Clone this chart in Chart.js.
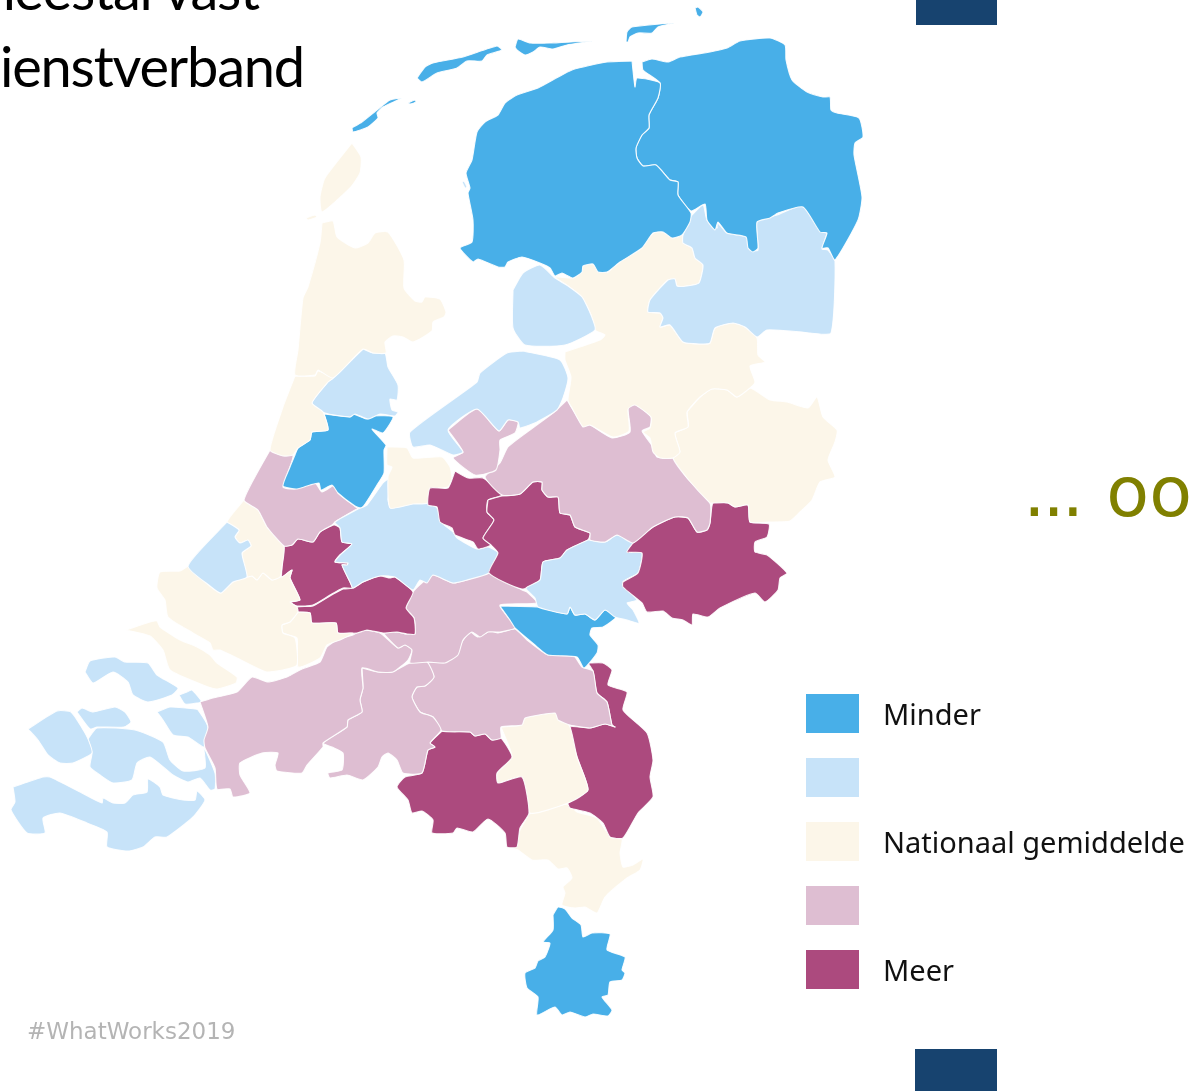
<!DOCTYPE html>
<html lang="nl">
<head>
<meta charset="utf-8">
<title>Leerkrachten met een meestal vast dienstverband</title>
<script src="https://cdn.jsdelivr.net/npm/chart.js@4"></script>
<style>
  html, body { margin: 0; padding: 0; background: #fff; }
  #page { position: relative; width: 1191px; height: 1091px; overflow: hidden; }
  #map { position: absolute; left: 0; top: 0; }
  .title { position: absolute; font: 56px/1 "Lato", sans-serif; letter-spacing: -1.2px; color: #000; white-space: nowrap; }
  #line1 { right: 932px; top: -39px; }
  #line2 { right: 887px; top: 38px; }
  #tag { position: absolute; left: 27px; top: 1018px; font: 23px/1.2 "DejaVu Sans", sans-serif; color: #b4b4b4; }
  #dots { position: absolute; right: -1px; top: 450px; font: 70px/1.2 "DejaVu Sans", sans-serif; color: #808000; white-space: pre; }
  #dots span { letter-spacing: -3px; }
  .bar { position: absolute; background: #17436f; }
  #legend { position: absolute; left: 806px; top: 694px; }
  .entry { position: relative; height: 39px; margin-bottom: 25px; }
  .swatch { position: absolute; left: 0; top: 0; width: 53px; height: 39px; }
  .label { position: absolute; left: 77px; top: 0; font: 29px/39px "Noto Sans", sans-serif; color: #111; white-space: nowrap; }
</style>
</head>
<body>
<div id="page">
  <canvas id="map" width="1191" height="1091"></canvas>
  <div class="title" id="line1">meestal vast</div>
  <div class="title" id="line2">dienstverband</div>
  <div id="dots"><span>..</span>. oo</div>
  <div id="tag">#WhatWorks2019</div>
  <div class="bar" style="left:916px;top:0;width:81px;height:25px"></div>
  <div class="bar" style="left:915px;top:1049px;width:82px;height:42px"></div>
  <div id="legend"></div>
</div>
<script>
// Legend classes, from below to above the national average.
const classLabels = ['Minder', '', 'Nationaal gemiddelde', '', 'Meer'];
const classColors = ['#48afe8', '#c7e3f9', '#fcf6e9', '#debed2', '#ac4a7e'];

// Region outlines as [x, y] in map grid units, with the class of each region.
const rottumeroog = [[695,8],[698,7],[703,12],[700,17],[697,15]];
const schiermonnikoog = [[626,42],[627,32],[632,27],[674,23],[658,27],[652,33],[638,33],[630,37],[628,42]];
const ameland = [[515,47],[518,39],[530,43],[550,43],[592,41],[567,45],[553,49],[540,47],[533,52],[525,55],[517,50]];
const terschelling = [[417,78],[425,67],[433,63],[463,57],[497,46],[502,50],[487,55],[482,61],[467,61],[457,68],[437,73],[422,82]];
const vlieland = [[352,128],[362,122],[377,110],[390,100],[402,98],[383,107],[377,113],[378,118],[368,127],[353,132]];
const griend = [[408,103],[415,100],[416,102],[410,104]];
const friesland = [[632,61],[635,87],[637,78],[660,83],[658,98],[649,115],[649,128],[642,135],[636,148],[637,158],[643,166],[656,165],[670,180],[678,182],[678,195],[691,213],[690,222],[682,235],[672,238],[663,232],[653,233],[642,248],[620,262],[607,272],[598,272],[593,264],[583,266],[582,272],[573,278],[562,273],[555,276],[550,268],[540,263],[522,257],[508,262],[505,267],[498,267],[478,259],[473,262],[460,248],[472,242],[473,220],[468,193],[470,188],[466,173],[472,160],[477,132],[485,122],[498,115],[505,103],[517,95],[538,88],[572,70],[607,62]];
const frieslandIslet = [[462,182],[464,181],[467,187],[465,188]];
const groningen = [[642,62],[652,59],[668,62],[680,57],[710,52],[727,48],[740,41],[770,38],[785,45],[786,60],[792,80],[807,92],[823,97],[830,97],[831,110],[837,113],[859,118],[863,137],[855,143],[854,155],[862,197],[858,220],[835,260],[828,248],[822,248],[827,233],[820,232],[803,207],[778,213],[770,218],[757,222],[758,248],[753,252],[748,248],[746,237],[727,233],[718,222],[715,230],[707,220],[705,204],[691,211],[678,195],[678,182],[670,180],[656,165],[643,166],[637,158],[636,148],[642,135],[649,128],[649,115],[658,98],[660,83],[643,70]];
const drenthe = [[691,216],[703,205],[707,220],[717,228],[717,222],[727,233],[747,237],[750,250],[758,250],[757,221],[777,215],[802,206],[822,232],[827,233],[822,249],[828,250],[835,261],[831,333],[810,333],[802,332],[767,330],[757,337],[745,327],[733,323],[715,328],[710,343],[700,344],[683,342],[670,325],[660,327],[663,318],[660,313],[648,312],[650,300],[668,280],[675,279],[677,286],[687,286],[699,283],[703,265],[695,258],[692,248],[683,243],[683,235]];
const noordoostpolder = [[513,290],[523,273],[540,265],[555,278],[568,286],[582,297],[591,315],[595,330],[565,345],[525,345],[513,328]];
const flevoland = [[523,351],[560,360],[568,378],[563,398],[557,410],[537,422],[520,428],[518,422],[508,420],[499,431],[477,409],[448,430],[463,452],[453,455],[430,445],[413,447],[410,432],[477,382],[480,373],[507,353]];
const almere = [[448,430],[477,409],[499,431],[508,420],[518,422],[515,433],[500,440],[500,450],[496,470],[475,475],[453,458],[463,452]];
const overijsselWest = [[565,352],[600,340],[605,335],[595,330],[591,315],[582,297],[568,286],[555,277],[573,278],[582,272],[583,265],[595,264],[600,272],[608,272],[623,258],[655,232],[663,232],[673,238],[683,235],[683,243],[692,248],[695,258],[703,265],[699,283],[687,286],[677,286],[675,279],[668,280],[650,300],[648,312],[660,313],[663,318],[660,327],[670,325],[683,342],[700,344],[710,343],[715,328],[733,323],[745,327],[757,338],[758,355],[765,362],[750,366],[755,382],[750,388],[737,397],[727,390],[712,389],[700,397],[687,412],[688,427],[675,433],[680,452],[673,458],[660,458],[653,452],[650,438],[643,432],[650,428],[651,417],[635,405],[628,409],[629,431],[613,437],[590,425],[583,427],[572,408],[568,400],[571,377],[565,360]];
const twente = [[687,412],[700,397],[712,389],[727,390],[737,397],[750,388],[770,400],[787,402],[808,408],[817,397],[823,417],[837,430],[835,442],[828,460],[835,477],[820,482],[812,500],[800,512],[790,521],[769,522],[750,522],[748,505],[735,507],[728,503],[713,503],[710,503],[687,478],[673,458],[680,452],[675,433],[688,427]];
const veluwe = [[567,400],[583,425],[590,425],[612,438],[630,432],[628,408],[635,404],[651,417],[650,427],[642,431],[653,447],[657,457],[673,458],[687,478],[710,503],[710,523],[707,530],[697,532],[688,518],[675,517],[653,527],[633,543],[617,535],[605,542],[590,540],[590,533],[575,527],[570,515],[560,513],[558,497],[548,497],[542,490],[542,482],[533,482],[520,494],[502,495],[485,477],[500,463],[508,447],[530,430],[553,413]];
const achterhoek = [[633,543],[653,527],[675,517],[688,518],[697,532],[707,530],[710,523],[713,503],[728,503],[735,507],[748,505],[750,522],[769,524],[767,537],[755,542],[755,552],[767,555],[787,573],[780,578],[778,590],[765,602],[755,593],[720,608],[708,617],[693,614],[692,625],[683,620],[672,618],[663,611],[647,612],[642,603],[623,587],[623,582],[638,573],[642,553],[627,552]];
const arnhem = [[590,540],[605,542],[617,535],[633,543],[627,552],[642,553],[638,573],[623,582],[637,600],[627,603],[633,610],[639,623],[627,620],[615,617],[605,610],[595,620],[585,614],[575,615],[570,607],[567,614],[538,607],[535,598],[526,588],[540,580],[543,562],[560,558],[567,550],[588,540]];
const nijmegen = [[500,606],[538,607],[567,614],[570,607],[575,615],[585,614],[595,620],[605,610],[616,617],[603,627],[592,628],[590,635],[598,645],[597,653],[584,668],[577,657],[548,655],[535,645],[515,628],[510,620]];
const gelderseVallei = [[488,500],[502,496],[520,494],[533,482],[542,482],[542,490],[548,497],[558,497],[560,513],[570,515],[575,527],[590,533],[588,540],[567,550],[560,558],[543,562],[540,580],[522,589],[489,573],[498,553],[491,545],[483,538],[494,520],[487,512]];
const utrechtNoord = [[455,471],[468,478],[483,478],[502,495],[488,500],[487,512],[494,520],[483,538],[491,545],[478,549],[473,542],[455,535],[452,528],[440,522],[437,507],[428,505],[430,488],[448,488]];
const gooi = [[387,447],[407,448],[413,458],[442,457],[450,467],[452,478],[448,487],[430,490],[428,503],[413,504],[390,508],[388,477],[392,467],[387,465]];
const utrechtWest = [[358,509],[367,505],[383,483],[390,478],[388,500],[391,508],[410,503],[428,503],[437,508],[442,523],[453,532],[457,538],[477,549],[488,547],[498,553],[489,573],[467,580],[453,583],[433,575],[427,583],[420,580],[413,590],[395,577],[380,576],[363,582],[353,588],[350,582],[342,565],[347,565],[348,563],[335,562],[340,555],[352,544],[342,542],[340,528],[335,522]];
const wieringen = [[352,143],[361,157],[360,173],[350,188],[322,212],[320,197],[325,178]];
const wieringenTip = [[306,218],[315,215],[317,217],[308,220]];
const noordHolland = [[322,223],[333,221],[337,237],[355,248],[368,243],[375,233],[388,232],[404,260],[404,288],[415,301],[422,302],[425,297],[440,299],[446,312],[444,317],[433,322],[432,331],[413,342],[403,337],[393,336],[385,342],[386,353],[373,353],[363,349],[333,378],[318,370],[315,375],[295,375],[298,350],[303,298],[308,287],[320,243]];
const kennemerland = [[295,376],[315,376],[318,371],[333,378],[328,382],[312,403],[323,412],[328,430],[312,432],[310,440],[298,448],[293,455],[283,456],[270,450],[283,407]];
const zaanstreek = [[363,349],[373,353],[385,353],[388,367],[398,385],[397,400],[390,399],[392,410],[398,412],[395,416],[380,414],[368,419],[355,414],[350,417],[325,413],[312,403],[328,382],[333,378]];
const amsterdam = [[324,414],[350,417],[353,414],[367,419],[373,416],[393,417],[383,433],[372,429],[386,445],[384,450],[384,473],[377,485],[362,508],[355,506],[338,493],[332,485],[321,490],[319,483],[310,485],[297,489],[283,486],[290,467],[295,455],[298,448],[310,440],[312,432],[328,430]];
const leiden = [[270,450],[293,455],[283,487],[293,489],[315,483],[322,492],[335,485],[338,493],[358,509],[355,510],[335,522],[332,525],[320,532],[313,542],[298,539],[292,545],[284,546],[267,527],[258,510],[244,500]];
const denHaag = [[227,522],[239,530],[235,537],[240,543],[248,540],[251,546],[242,553],[247,577],[233,582],[221,593],[210,586],[188,566]];
const delft = [[244,500],[258,510],[267,527],[284,546],[282,567],[280,577],[272,580],[263,573],[257,580],[252,576],[247,577],[242,553],[251,546],[248,540],[240,543],[235,537],[239,530],[227,522]];
const voorne = [[188,566],[210,586],[221,593],[233,582],[247,577],[252,576],[257,580],[263,573],[272,580],[280,577],[282,577],[292,570],[290,578],[300,600],[290,602],[297,607],[298,612],[290,622],[282,625],[283,633],[295,638],[297,665],[283,670],[267,672],[257,668],[237,658],[220,650],[213,650],[210,643],[193,633],[168,617],[165,600],[157,588],[160,572],[180,571]];
const flakkee = [[126,630],[150,622],[157,621],[160,627],[180,640],[197,647],[210,655],[217,663],[237,677],[236,683],[217,689],[203,685],[170,670],[163,650],[150,636]];
const drechtsteden = [[298,612],[310,613],[312,623],[336,623],[338,633],[353,633],[340,640],[327,645],[320,658],[298,667],[297,638],[283,633],[282,625],[290,622]];
const rijnmond = [[284,546],[292,545],[298,539],[313,542],[320,532],[334,525],[340,528],[342,542],[352,544],[340,555],[335,562],[348,563],[347,565],[342,565],[350,582],[352,588],[343,588],[330,595],[313,605],[297,606],[290,602],[300,600],[290,578],[292,570],[282,577],[282,567]];
const zuidHollandZuid = [[343,589],[353,588],[363,582],[380,576],[390,578],[395,577],[413,592],[406,608],[414,618],[415,634],[407,634],[397,632],[383,633],[367,630],[357,633],[338,633],[336,623],[312,623],[310,613],[298,612],[297,607],[313,606],[330,596]];
const rivierenland = [[383,633],[397,632],[407,634],[415,634],[414,618],[406,608],[413,592],[423,582],[433,575],[453,583],[467,580],[489,573],[522,590],[527,592],[537,603],[500,605],[510,620],[515,628],[500,632],[488,632],[480,637],[472,632],[463,640],[458,655],[445,663],[428,662],[410,663],[412,650],[405,645],[398,648]];
const westBrabant = [[200,702],[213,698],[237,692],[252,677],[268,682],[287,677],[302,669],[320,662],[327,647],[337,640],[353,635],[363,630],[380,633],[398,648],[405,645],[412,650],[408,660],[393,672],[378,672],[362,668],[363,688],[360,700],[362,712],[348,720],[347,727],[323,743],[323,747],[307,765],[302,773],[277,771],[275,765],[278,753],[262,753],[240,763],[240,775],[250,793],[233,797],[230,789],[217,789],[215,768],[205,748],[204,740],[208,727]];
const middenBrabant = [[362,668],[378,672],[392,672],[410,663],[427,662],[434,677],[425,686],[417,687],[412,697],[420,712],[433,717],[441,730],[430,743],[435,747],[428,750],[422,773],[403,773],[397,760],[388,753],[382,757],[378,767],[363,780],[347,775],[330,778],[328,773],[342,770],[343,753],[332,747],[323,743],[347,727],[348,720],[362,712],[360,700],[363,688]];
const oostBrabant = [[427,662],[445,662],[457,655],[462,642],[470,632],[478,637],[490,631],[498,633],[515,629],[527,640],[548,655],[573,655],[582,667],[593,671],[597,693],[607,702],[612,725],[615,727],[605,724],[590,728],[570,725],[558,720],[555,713],[525,718],[522,725],[501,727],[501,738],[492,740],[485,734],[475,736],[470,732],[442,731],[433,717],[420,712],[412,697],[417,687],[425,686],[434,677]];
const zuidoostBrabant = [[442,731],[470,732],[475,736],[485,734],[492,740],[501,738],[512,757],[497,773],[498,783],[522,777],[529,813],[520,828],[517,847],[507,847],[505,833],[488,819],[473,832],[457,828],[453,833],[432,833],[433,820],[422,811],[412,813],[408,800],[397,787],[405,777],[422,773],[428,750],[435,747],[430,743]];
const peel = [[501,727],[522,725],[525,718],[556,713],[570,727],[577,757],[588,790],[568,803],[530,813],[522,777],[498,783],[497,773],[512,757]];
const noordLimburg = [[588,663],[603,663],[612,670],[608,685],[627,692],[623,710],[647,733],[653,760],[650,777],[653,797],[638,813],[623,838],[610,837],[603,823],[590,813],[570,808],[568,803],[588,790],[577,757],[570,727],[590,728],[605,724],[615,727],[612,725],[607,702],[597,693],[593,671]];
const middenLimburg = [[529,814],[568,804],[577,812],[597,818],[607,832],[622,839],[620,853],[623,867],[633,865],[643,859],[640,870],[627,878],[605,897],[597,913],[585,907],[575,908],[562,905],[565,893],[563,887],[572,878],[567,868],[558,869],[548,860],[532,860],[518,850],[510,847],[517,842],[520,830]];
const zuidLimburg = [[553,915],[558,907],[565,909],[572,918],[581,925],[583,937],[592,933],[610,934],[607,950],[625,957],[622,970],[625,973],[622,980],[610,982],[608,995],[602,997],[612,1010],[608,1016],[593,1014],[585,1017],[570,1012],[562,1015],[555,1007],[537,1015],[538,997],[527,988],[525,973],[535,968],[538,961],[545,957],[550,943],[543,942],[553,930]];
const schouwen = [[85,672],[90,661],[115,657],[125,662],[148,663],[157,675],[178,688],[172,695],[148,702],[133,695],[128,682],[113,672],[93,683]];
const sintPhilipsland = [[179,695],[187,692],[192,690],[202,702],[197,703],[185,704]];
const noordBeveland = [[77,712],[82,708],[93,712],[115,707],[125,712],[131,722],[124,727],[97,727],[90,729]];
const tholen = [[157,712],[170,707],[195,709],[198,710],[208,727],[204,747],[188,737],[173,735],[163,720]];
const walcheren = [[28,729],[57,711],[71,712],[82,728],[88,739],[92,753],[73,763],[60,763],[48,755],[38,740]];
const zuidBeveland = [[88,739],[97,728],[135,730],[163,742],[170,760],[183,771],[205,768],[204,748],[215,773],[215,789],[210,790],[200,778],[188,782],[173,775],[150,757],[137,763],[132,780],[113,783],[100,775],[90,767],[92,753]];
const zeeuwsVlaanderen = [[13,787],[43,777],[50,777],[80,792],[102,803],[103,798],[113,803],[125,803],[133,795],[147,792],[148,779],[160,787],[163,795],[183,800],[195,800],[197,791],[205,800],[193,817],[167,837],[155,837],[143,847],[128,851],[107,847],[107,832],[87,823],[60,813],[43,818],[45,833],[27,833],[11,810],[15,802]];

const regions = [
  [rottumeroog, 0], [schiermonnikoog, 0], [ameland, 0], [terschelling, 0], [vlieland, 0], [griend, 0],
  [friesland, 0], [frieslandIslet, 1], [groningen, 0], [drenthe, 1], [noordoostpolder, 1], [flevoland, 1],
  [almere, 3], [overijsselWest, 2], [twente, 2], [veluwe, 3], [achterhoek, 4], [arnhem, 1], [nijmegen, 0],
  [gelderseVallei, 4], [utrechtNoord, 4], [gooi, 2], [utrechtWest, 1], [wieringen, 2], [wieringenTip, 2],
  [noordHolland, 2], [kennemerland, 2], [zaanstreek, 1], [amsterdam, 0], [leiden, 3], [denHaag, 1], [delft, 2],
  [voorne, 2], [flakkee, 2], [drechtsteden, 2], [rijnmond, 4], [zuidHollandZuid, 4], [rivierenland, 3],
  [westBrabant, 3], [middenBrabant, 3], [oostBrabant, 3], [zuidoostBrabant, 4], [peel, 2], [noordLimburg, 4],
  [middenLimburg, 2], [zuidLimburg, 0], [schouwen, 1], [sintPhilipsland, 1], [noordBeveland, 1], [tholen, 1],
  [walcheren, 1], [zuidBeveland, 1], [zeeuwsVlaanderen, 1]
];

// One closed, filled line per region, slightly rounded at the corners.
const datasets = regions.map(([outline, cls]) => ({
  data: outline.concat([outline[0]]).map(([x, y]) => ({ x, y })),
  showLine: true,
  fill: 'shape',
  backgroundColor: classColors[cls],
  borderColor: 'rgba(255,255,255,0.9)',
  borderWidth: 1.1,
  borderJoinStyle: 'round',
  pointRadius: 0,
  tension: 0.18
}));

new Chart(document.getElementById('map'), {
  type: 'scatter',
  data: { datasets },
  options: {
    responsive: false,
    animation: false,
    layout: { padding: 0 },
    scales: {
      x: { type: 'linear', min: 0, max: 1191, display: false },
      y: { type: 'linear', min: 0, max: 1091, reverse: true, display: false }
    },
    plugins: { legend: { display: false }, tooltip: { enabled: false } }
  }
});

// Legend entries come from the class arrays.
const legend = document.getElementById('legend');
classLabels.forEach((label, i) => {
  const entry = document.createElement('div');
  entry.className = 'entry';
  entry.innerHTML = '<div class="swatch" style="background:' + classColors[i] + '"></div><div class="label">' + label + '</div>';
  legend.appendChild(entry);
});
</script>
</body>
</html>
